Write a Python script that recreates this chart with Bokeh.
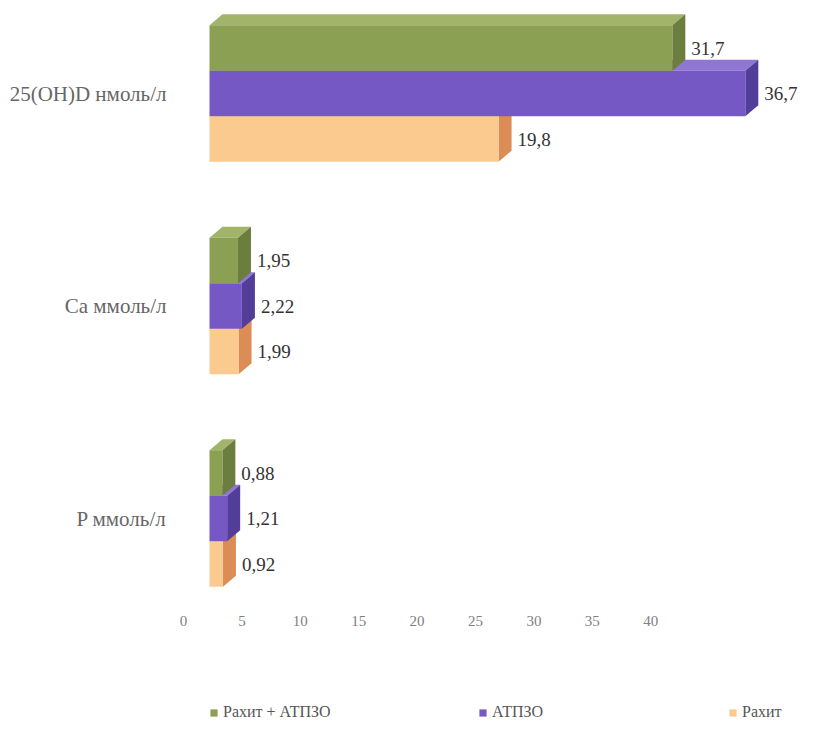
from bokeh.plotting import figure
from bokeh.models import Range1d, LinearAxis, FixedTicker, Legend, LegendItem, ColumnDataSource
from bokeh.core.properties import value
from bokeh.embed import file_html
from bokeh.resources import INLINE

# --- data -------------------------------------------------------------
categories = ["25(OH)D нмоль/л", "Ca ммоль/л", "P ммоль/л"]
series_names = ["Рахит + АТПЗО", "АТПЗО", "Рахит"]
rahit_atpzo = [31.7, 1.95, 0.88]
atpzo = [36.7, 2.22, 1.21]
rahit = [19.8, 1.99, 0.92]
tick_values = [0, 5, 10, 15, 20, 25, 30, 35, 40]

# --- layout constants (pixels) ---------------------------------------
W, H = 814, 751
BAR_ZERO_PX, BAR_PX_PER_UNIT = 209, 14.6      # bars drawn in the back of the 3D box
AXIS_ZERO_PX, AXIS_PX_PER_UNIT = 183, 11.68   # value axis on the front floor edge
AXIS_LINE_PX = 608                            # where the floor edge runs
TOP_GROUP_PX, GROUP_PX = 93, 212.5            # vertical centre of first group, spacing
BAR_H_PX = 45.5
DEPTH_X_PX, DEPTH_Y_PX = 13, 11
FONT = "Liberation Serif"

n = len(categories)
top_pos = n - 1
y_top = top_pos + TOP_GROUP_PX / GROUP_PX
y_bottom = top_pos - (H - TOP_GROUP_PX) / GROUP_PX

p = figure(width=W, height=H, output_backend="svg", toolbar_location=None,
           x_range=Range1d(-BAR_ZERO_PX / BAR_PX_PER_UNIT, (W - BAR_ZERO_PX) / BAR_PX_PER_UNIT),
           y_range=Range1d(y_bottom, y_top),
           x_axis_type=None, y_axis_type=None,
           min_border=0, outline_line_color=None)
p.extra_x_ranges = {"floor": Range1d(-AXIS_ZERO_PX / AXIS_PX_PER_UNIT,
                                     (W - AXIS_ZERO_PX) / AXIS_PX_PER_UNIT)}
p.xgrid.visible = False
p.ygrid.visible = False
p.background_fill_color = "white"
p.border_fill_color = "white"

bar_h = BAR_H_PX / GROUP_PX
dxu = DEPTH_X_PX / BAR_PX_PER_UNIT
dyu = DEPTH_Y_PX / GROUP_PX

# series drawn back-to-front: lower bar first so the one above overlaps it
series = [
    # values, name, slot offset, front, top, side
    (rahit, series_names[2], -1, "#fbca8f", "#fdd8a8", "#dc8d55"),
    (atpzo, series_names[1], 0, "#7558c4", "#8e76d2", "#523d99"),
    (rahit_atpzo, series_names[0], 1, "#8ca053", "#a2b46a", "#6c7e3e"),
]

front_renderers = {}
for vals, name, slot, c_front, c_top, c_side in series:
    yc = [top_pos - i + slot * bar_h for i in range(n)]
    bottoms = [y - bar_h / 2 for y in yc]
    tops = [y + bar_h / 2 for y in yc]

    top_xs = [[0, dxu, v + dxu, v] for v in vals]
    top_ys = [[t, t + dyu, t + dyu, t] for t in tops]
    side_xs = [[v, v, v + dxu, v + dxu] for v in vals]
    side_ys = [[b, t, t + dyu, b + dyu] for b, t in zip(bottoms, tops)]

    p.patches(top_xs, top_ys, fill_color=c_top, line_color=None)
    p.patches(side_xs, side_ys, fill_color=c_side, line_color=None)
    src = ColumnDataSource(dict(left=[0] * n, right=vals, bottom=bottoms, top=tops))
    front_renderers[name] = p.quad(left="left", right="right", bottom="bottom", top="top",
                                   source=src, fill_color=c_front, line_color=None)

    labels = [str(v).replace(".", ",") for v in vals]
    p.text(x=vals, y=yc, text=labels, x_offset=19, text_align="left",
           text_baseline="middle", text_font=value(FONT), text_font_size="19px",
           text_color="#333333")

# category axis on the left wall
cat_axis = LinearAxis(ticker=FixedTicker(ticks=[top_pos - i for i in range(n)]),
                      major_label_overrides={top_pos - i: c for i, c in enumerate(categories)},
                      fixed_location=(180 - BAR_ZERO_PX) / BAR_PX_PER_UNIT,
                      axis_line_color=None, major_tick_line_color=None,
                      minor_tick_line_color=None, major_label_standoff=8,
                      major_label_text_font=FONT, major_label_text_font_size="21px",
                      major_label_text_color="#666666")
p.add_layout(cat_axis, "left")

# value axis along the front floor edge
val_axis = LinearAxis(x_range_name="floor", ticker=FixedTicker(ticks=tick_values),
                      fixed_location=top_pos - (AXIS_LINE_PX - TOP_GROUP_PX) / GROUP_PX,
                      axis_line_color=None, major_tick_line_color=None,
                      minor_tick_line_color=None, major_label_standoff=1,
                      major_label_text_font=FONT, major_label_text_font_size="15px",
                      major_label_text_color="#808080")
p.add_layout(val_axis, "below")

# one legend per series, spread along the bottom
legend_x = {series_names[0]: 209, series_names[1]: 478, series_names[2]: 728}
for name in series_names:
    lg = Legend(items=[LegendItem(label=name, renderers=[front_renderers[name]])],
                location=(legend_x[name], H - 712 - 9), orientation="horizontal",
                glyph_width=9, glyph_height=9, label_standoff=5,
                label_height=18, padding=0, margin=0, spacing=0,
                border_line_color=None, background_fill_alpha=0,
                label_text_font=FONT, label_text_font_size="16px",
                label_text_color="#555555")
    p.add_layout(lg, "center")

open("out.html", "w").write(file_html(p, INLINE))
